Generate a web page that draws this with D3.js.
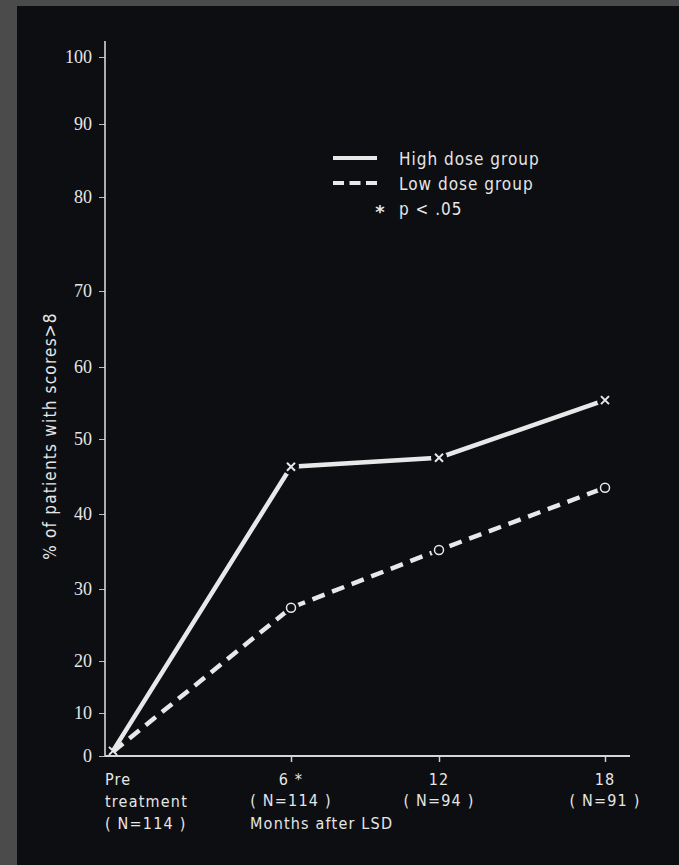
<!DOCTYPE html>
<html>
<head>
<meta charset="utf-8">
<script src="https://cdn.jsdelivr.net/npm/d3@7"></script>
<style>
  body { margin: 0; background: #4b4b4b; }
  svg { display: block; }
  text { fill: #e6e6e6; }
</style>
</head>
<body>
<svg id="chart" width="679" height="865"></svg>
<script>
// data
const months = [0, 6, 12, 18];
const highDose = [1.2, 46.3, 47.5, 55.4];
const lowDose = [1.0, 27.4, 35.2, 43.5];
const yTicks = [0, 10, 20, 30, 40, 50, 60, 70, 80, 90, 100];
const xTopLabels = ["Pre", "6 *", "12", "18"];
const xNLabels = ["( N=114 )", "( N=114 )", "( N=94 )", "( N=91 )"];
const legendLabels = ["High dose group", "Low dose group", "p <  .05"];

const svg = d3.select("#chart"),
      width = +svg.attr("width"),
      height = +svg.attr("height");

const panel = "#0c0e12",
      ink = "#e8e8e8",
      sans = "'DejaVu Sans Condensed', 'DejaVu Sans', sans-serif",
      serif = "'Liberation Serif', 'DejaVu Serif', serif";

// dark photographed page
svg.append("rect")
    .attr("x", 17).attr("y", 6)
    .attr("width", width - 17).attr("height", height - 6)
    .attr("fill", panel);

// hand drawn axis: tick spacing is uneven, so the scale is piecewise
const y = d3.scaleLinear().domain(yTicks)
    .range([756, 713, 661, 589, 514, 439, 367, 291, 197, 124, 57]);
const x = d3.scaleLinear().domain(months).range([113, 291, 439, 605]);
const axisX = 105, axisRight = 630;

// y axis
const yAxis = d3.axisLeft(y).tickValues(yTicks).tickSize(6).tickPadding(7);
const gy = svg.append("g")
    .attr("transform", `translate(${axisX},0)`)
    .call(yAxis);
gy.select(".domain").remove();
gy.selectAll(".tick line").attr("stroke", "#bdbdbd").attr("stroke-width", 1);
gy.selectAll(".tick text")
    .attr("font-family", serif)
    .attr("font-size", 18)
    .attr("fill", ink);
svg.append("line")
    .attr("x1", axisX).attr("x2", axisX)
    .attr("y1", y(0)).attr("y2", y(100) - 16)
    .attr("stroke", "#d6d6d6").attr("stroke-width", 1.6);

// x axis
const xAxis = d3.axisBottom(x).tickValues(months.slice(1)).tickSize(6).tickFormat("");
const gx = svg.append("g")
    .attr("transform", `translate(0,${y(0)})`)
    .call(xAxis);
gx.select(".domain").remove();
gx.selectAll(".tick line").attr("stroke", "#cfcfcf").attr("stroke-width", 1.5);
svg.append("line")
    .attr("x1", axisX).attr("x2", axisRight)
    .attr("y1", y(0)).attr("y2", y(0))
    .attr("stroke", "#d6d6d6").attr("stroke-width", 2);

// x tick labels
const xl = svg.append("g")
    .attr("font-family", sans)
    .attr("font-size", 16)
    .attr("letter-spacing", 1.2);
months.forEach((m, i) => {
    const first = i === 0;
    const anchor = first ? "start" : "middle";
    const lx = first ? axisX : x(m);
    xl.append("text").attr("x", lx).attr("y", 785)
        .attr("text-anchor", anchor).text(xTopLabels[i]);
    if (first) {
        xl.append("text").attr("x", lx).attr("y", 807)
            .attr("text-anchor", anchor).text("treatment");
    }
    xl.append("text").attr("x", lx).attr("y", first ? 829 : 806)
        .attr("text-anchor", anchor).text(xNLabels[i]);
});
xl.append("text").attr("x", 250).attr("y", 829).text("Months after LSD");

// y label
svg.append("text")
    .attr("transform", `translate(56,${(y(20) + y(70)) / 2 - 40}) rotate(-90)`)
    .attr("text-anchor", "middle")
    .attr("font-family", sans)
    .attr("font-size", 17)
    .attr("letter-spacing", 1.2)
    .attr("fill", ink)
    .text("% of patients with scores>8");

// series
const line = d3.line().x((d, i) => x(months[i])).y(d => y(d));

svg.append("path").datum(lowDose)
    .attr("d", line)
    .attr("fill", "none").attr("stroke", ink)
    .attr("stroke-width", 4.5).attr("stroke-dasharray", "13,8");
svg.append("path").datum(highDose)
    .attr("d", line)
    .attr("fill", "none").attr("stroke", ink)
    .attr("stroke-width", 4.5);

// small gaps round the markers
[highDose, lowDose].forEach(s => {
    svg.append("g").selectAll("circle").data(s.slice(1)).join("circle")
        .attr("cx", (d, i) => x(months[i + 1]))
        .attr("cy", d => y(d))
        .attr("r", 8)
        .attr("fill", panel);
});

// crosses for high dose
svg.append("g").selectAll("path").data(highDose).join("path")
    .attr("transform", (d, i) => `translate(${x(months[i])},${y(d)})`)
    .attr("d", "M-4,-4L4,4M-4,4L4,-4")
    .attr("stroke", ink).attr("stroke-width", 2);

// circles for low dose
svg.append("g").selectAll("circle").data(lowDose.slice(1)).join("circle")
    .attr("cx", (d, i) => x(months[i + 1]))
    .attr("cy", d => y(d))
    .attr("r", 4.5)
    .attr("fill", "none").attr("stroke", ink).attr("stroke-width", 1.5);

// legend
const lg = svg.append("g").attr("transform", "translate(333,158)");
lg.append("line").attr("x1", 0).attr("x2", 44).attr("y1", 0).attr("y2", 0)
    .attr("stroke", ink).attr("stroke-width", 4);
lg.append("line").attr("x1", 0).attr("x2", 44).attr("y1", 25).attr("y2", 25)
    .attr("stroke", ink).attr("stroke-width", 4).attr("stroke-dasharray", "11,5.5");
lg.append("text").attr("x", 47).attr("y", 60)
    .attr("text-anchor", "middle")
    .attr("font-family", "'DejaVu Sans', sans-serif")
    .attr("font-weight", "bold")
    .attr("font-size", 18)
    .text("*");
lg.selectAll("text.lab").data(legendLabels).join("text")
    .attr("class", "lab")
    .attr("x", 66)
    .attr("y", (d, i) => 7 + i * 25)
    .attr("font-family", sans)
    .attr("font-size", 17)
    .attr("letter-spacing", 1)
    .text(d => d);
</script>
</body>
</html>
